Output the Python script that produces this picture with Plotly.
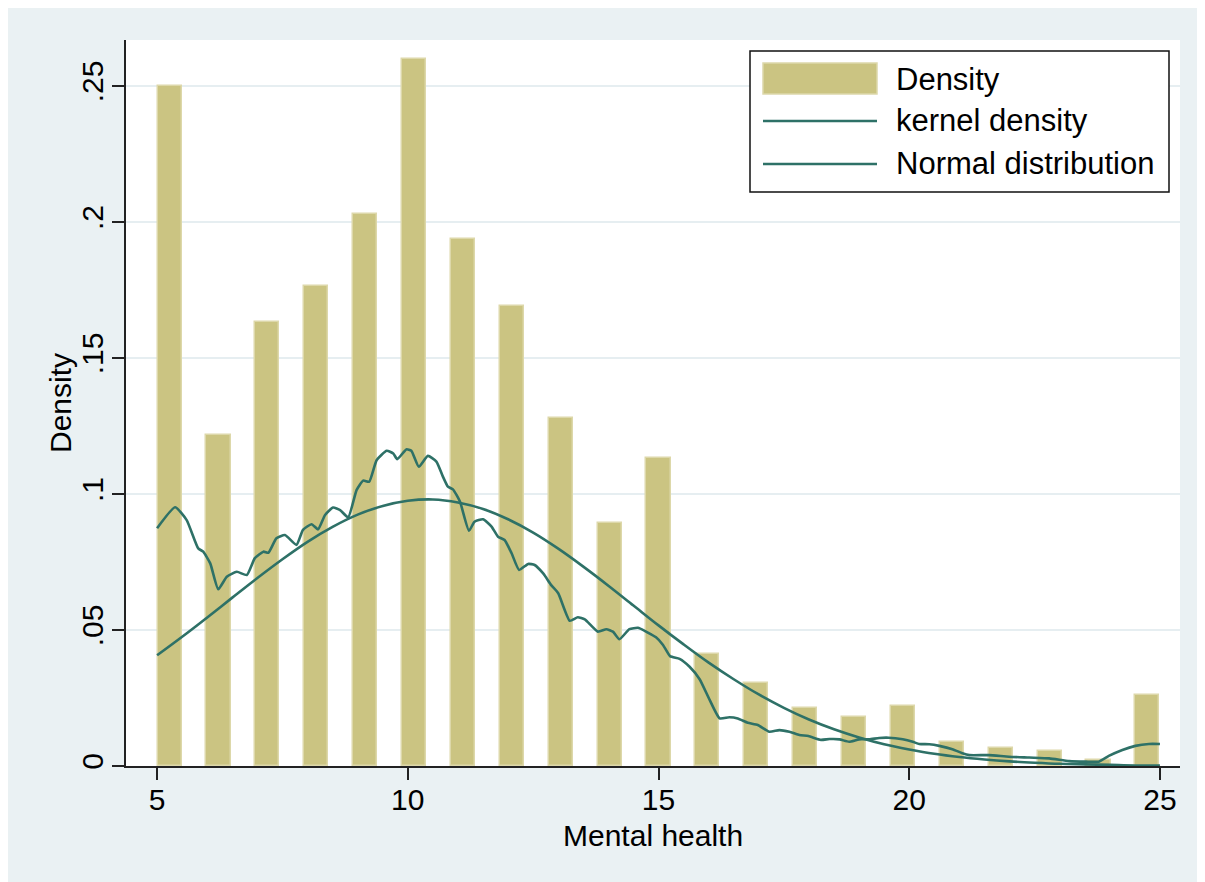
import numpy as np
import plotly.graph_objects as go

# ---------------- data ----------------
scores = list(range(5, 26))  # Mental health score categories 5..25
hist_density = [0.250, 0.1217, 0.1633, 0.1765, 0.2029, 0.2598, 0.1939, 0.1691,
                0.128, 0.0893, 0.1134, 0.0411, 0.0304, 0.0213, 0.0181, 0.0222,
                0.0087, 0.0065, 0.0055, 0.0022, 0.026]

kd_x = [5.00, 5.36, 5.59, 5.82, 5.92, 6.06, 6.22, 6.39, 6.59, 6.79, 6.95, 7.12, 7.22,
        7.38, 7.55, 7.78, 7.91, 8.08, 8.21, 8.35, 8.51, 8.65, 8.81, 8.98, 9.11, 9.23,
        9.38, 9.58, 9.71, 9.79, 9.97, 10.07, 10.22, 10.40, 10.57, 10.70, 10.80, 10.90,
        11.04, 11.22, 11.33, 11.50, 11.67, 11.80, 11.93, 12.07, 12.22, 12.40, 12.53,
        12.70, 12.86, 13.00, 13.23, 13.39, 13.53, 13.79, 13.96, 14.09, 14.22, 14.42,
        14.59, 14.75, 14.95, 15.09, 15.23, 15.42, 15.62, 15.82, 16.02, 16.22, 16.41,
        16.58, 16.78, 16.98, 17.21, 17.41, 17.61, 17.81, 17.99, 18.24, 18.41, 18.61,
        18.80, 19.00, 19.20, 19.40, 19.59, 19.87, 20.07, 20.20, 20.40, 20.60, 20.86,
        21.06, 21.20, 21.59, 21.99, 22.39, 22.79, 23.19, 23.52, 23.78, 23.98, 24.25,
        24.51, 24.78, 25.00]
kd_y = [0.0874, 0.0951, 0.0904, 0.0800, 0.0788, 0.0745, 0.0650, 0.0696, 0.0714, 0.0702,
        0.0764, 0.0788, 0.0784, 0.0837, 0.0849, 0.0813, 0.0868, 0.0889, 0.0870, 0.0923,
        0.0950, 0.0941, 0.0914, 0.1015, 0.1049, 0.1045, 0.1125, 0.1159, 0.1149, 0.1128,
        0.1164, 0.1159, 0.1100, 0.1140, 0.1119, 0.1064, 0.1027, 0.1017, 0.0972, 0.0865,
        0.0898, 0.0907, 0.0880, 0.0843, 0.0831, 0.0782, 0.0721, 0.0743, 0.0739, 0.0708,
        0.0665, 0.0635, 0.0534, 0.0547, 0.0539, 0.0494, 0.0503, 0.0494, 0.0466, 0.0503,
        0.0508, 0.0494, 0.0473, 0.0445, 0.0404, 0.0394, 0.0365, 0.0319, 0.0243, 0.0175,
        0.0179, 0.0175, 0.0159, 0.0151, 0.0126, 0.0132, 0.0126, 0.0114, 0.0110, 0.0096,
        0.0099, 0.0098, 0.0089, 0.0098, 0.0098, 0.0103, 0.0104, 0.0098, 0.0089, 0.0081,
        0.0080, 0.0074, 0.0062, 0.0047, 0.0040, 0.0040, 0.0034, 0.0031, 0.0028, 0.0018,
        0.0016, 0.0016, 0.0037, 0.0059, 0.0074, 0.0081, 0.0081]

normal_x = [5.0, 5.5, 6.0, 6.5, 7.0, 7.5, 8.0, 8.5, 9.0, 9.5, 10.0, 10.5, 11.0, 11.5,
            12.0, 12.5, 13.0, 13.5, 14.0, 14.5, 15.0, 15.5, 16.0, 16.5, 17.0, 17.5,
            18.0, 18.5, 19.0, 19.5, 20.0, 20.5, 21.0, 21.5, 22.0, 22.5, 23.0, 23.5,
            24.0, 24.5, 25.0]
normal_y = [0.0407, 0.0475, 0.0546, 0.0619, 0.0691, 0.0760, 0.0824, 0.0879, 0.0924,
            0.0956, 0.0975, 0.0980, 0.0969, 0.0945, 0.0907, 0.0858, 0.0799, 0.0733,
            0.0663, 0.0590, 0.0517, 0.0447, 0.0380, 0.0319, 0.0263, 0.0214, 0.0171,
            0.0135, 0.0105, 0.0080, 0.0061, 0.0045, 0.0033, 0.0024, 0.0017, 0.0012,
            0.0008, 0.0006, 0.0004, 0.0002, 0.0002]

x_tick_vals = [5, 10, 15, 20, 25]
y_tick_vals = [0, 0.05, 0.1, 0.15, 0.2, 0.25]
y_tick_text = ["0", ".05", ".1", ".15", ".2", ".25"]
legend_labels = ["Density", "kernel density", "Normal distribution"]

assert len(kd_x) == len(kd_y)
assert len(normal_x) == len(normal_y)

# ---------------- styling ----------------
BAR_FILL = "#CBC482"
BAR_EDGE = "#DDD8AA"
LINE_COL = "#2E7167"
BG = "#EAF1F3"
GRID = "#E6EEF1"
FONT = "Arial, Liberation Sans, sans-serif"
FS = 31
FS_AX = 30

# bars: 21 bins spread over 5..25, drawn at about half the bin width
n = len(scores)
bar_centers = np.linspace(5.25, 24.75, n)
bar_width = 0.48

fig = go.Figure()
fig.add_trace(go.Bar(x=bar_centers, y=hist_density, width=bar_width,
                     marker=dict(color=BAR_FILL, line=dict(color=BAR_EDGE, width=1.5)),
                     name=legend_labels[0], showlegend=False, customdata=scores))
fig.add_trace(go.Scatter(x=kd_x, y=kd_y, mode="lines", name=legend_labels[1],
                         line=dict(color=LINE_COL, width=2.6, shape="spline", smoothing=0.5),
                         showlegend=False))
fig.add_trace(go.Scatter(x=normal_x, y=normal_y, mode="lines", name=legend_labels[2],
                         line=dict(color=LINE_COL, width=2.6, shape="spline", smoothing=1.0),
                         showlegend=False))

# page body has an 8px margin; work in screen pixels and convert
OFF = 8
W, H = 1205 - OFF, 882 - OFF
PL, PR, PT, PB = 126, 1180, 40, 766          # plot area in screen pixels
L, T = PL - OFF, PT - OFF
R, B = W - (PR - OFF), H - (PB - OFF)
pw, ph = PR - PL, PB - PT


def px_x(p):
    return (p - PL) / pw


def px_y(p):
    return (PB - p) / ph


shapes = [
    # white strip on the right edge of the page, as in the reference
    dict(type="rect", xref="paper", yref="paper", layer="below",
         x0=px_x(1200), x1=px_x(1210), y0=px_y(890), y1=px_y(0),
         fillcolor="white", line=dict(width=0)),
    dict(type="rect", xref="paper", yref="paper", layer="above",
         x0=px_x(750), x1=px_x(1169), y0=px_y(192), y1=px_y(51),
         fillcolor="white", line=dict(color="#111111", width=1.5)),
    dict(type="rect", xref="paper", yref="paper", layer="above",
         x0=px_x(763), x1=px_x(877), y0=px_y(94), y1=px_y(63),
         fillcolor=BAR_FILL, line=dict(color=BAR_EDGE, width=1.5)),
    dict(type="line", xref="paper", yref="paper", layer="above",
         x0=px_x(763), x1=px_x(877), y0=px_y(121), y1=px_y(121),
         line=dict(color=LINE_COL, width=2.6)),
    dict(type="line", xref="paper", yref="paper", layer="above",
         x0=px_x(763), x1=px_x(877), y0=px_y(164), y1=px_y(164),
         line=dict(color=LINE_COL, width=2.6)),
]

annotations = []
for txt, yc in zip(legend_labels, [79, 121, 163]):
    annotations.append(dict(text=txt, xref="paper", yref="paper", x=px_x(894), y=px_y(yc),
                            xanchor="left", yanchor="middle", showarrow=False,
                            font=dict(family=FONT, size=FS, color="black")))
# axis titles
annotations.append(dict(text="Mental health", xref="paper", yref="paper",
                        x=0.5, y=px_y(835), xanchor="center", yanchor="middle",
                        showarrow=False, font=dict(family=FONT, size=FS_AX, color="black")))
annotations.append(dict(text="Density", xref="paper", yref="paper",
                        x=px_x(60), y=0.5, xanchor="center", yanchor="middle",
                        textangle=-90, showarrow=False,
                        font=dict(family=FONT, size=FS_AX, color="black")))

fig.update_layout(
    width=W, height=H,
    margin=dict(l=L, r=R, t=T, b=B, pad=0),
    paper_bgcolor=BG, plot_bgcolor="white",
    font=dict(family=FONT, size=FS_AX, color="black"),
    shapes=shapes, annotations=annotations,
    showlegend=False, bargap=0,
)
fig.update_xaxes(range=[4.38, 25.4], tickvals=x_tick_vals, ticks="outside", ticklen=12,
                 tickwidth=1.5, tickcolor="#222", showline=True, linecolor="#222",
                 linewidth=1.5, showgrid=False, zeroline=False,
                 ticklabelstandoff=-6, tickfont=dict(size=FS_AX))
fig.update_yaxes(range=[0, 0.2669], tickvals=y_tick_vals, ticktext=y_tick_text,
                 tickangle=-90, ticks="outside", ticklen=12, tickwidth=1.5,
                 tickcolor="#222", showline=True, linecolor="#222", linewidth=1.5,
                 showgrid=True, gridcolor=GRID, gridwidth=2, zeroline=False,
                 ticklabelstandoff=-3, tickfont=dict(size=FS_AX))

fig.write_html("out.html")
